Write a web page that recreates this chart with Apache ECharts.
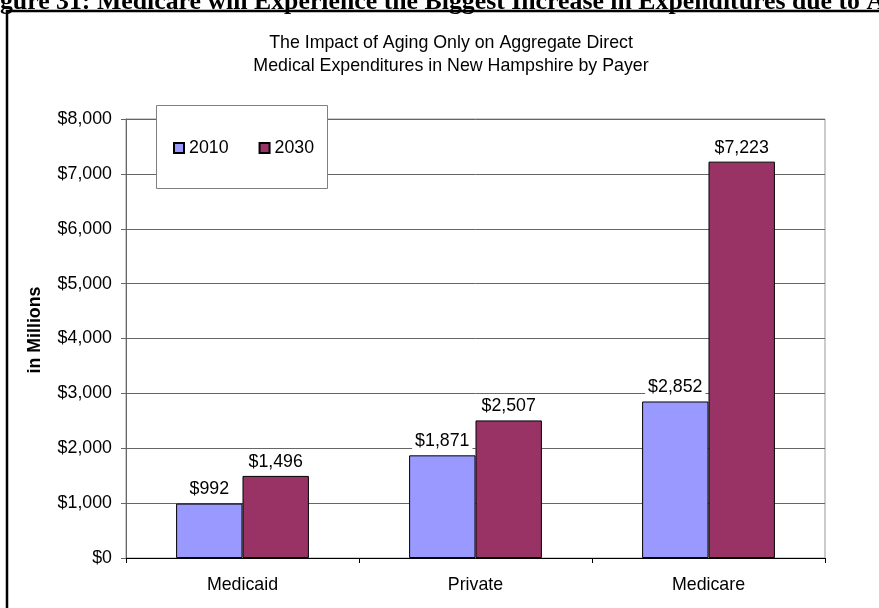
<!DOCTYPE html>
<html>
<head>
<meta charset="utf-8">
<script src="https://cdn.jsdelivr.net/npm/echarts@6/dist/echarts.min.js"></script>
<style>html,body{margin:0;padding:0;background:#fff;}#c{width:879px;height:608px;}</style>
</head>
<body>
<div id="c"></div>
<script>
var categories = ['Medicaid', 'Private', 'Medicare'];
var seriesNames = ['2010', '2030'];
var values2010 = [992, 1871, 2852];
var values2030 = [1496, 2507, 7223];
var yTicks = [0, 1000, 2000, 3000, 4000, 5000, 6000, 7000, 8000];

function money(v) {
  return '$' + String(v).replace(/\B(?=(\d{3})+(?!\d))/g, ',');
}

var chart = echarts.init(document.getElementById('c'), null, {renderer: 'canvas'});
var F = 'Liberation Sans, Arial, sans-serif';
var FS = 17.8;

function barLabel() {
  return {
    show: true, position: 'top', distance: 5,
    formatter: function (p) { return money(p.value); },
    color: '#000', fontFamily: F, fontSize: FS,
    backgroundColor: '#fff', padding: [1, 3, 0, 3]
  };
}

chart.setOption({
  animation: false,
  backgroundColor: '#fff',
  title: {
    text: 'The Impact of Aging Only on Aggregate Direct\nMedical Expenditures in New Hampshire by Payer',
    left: 451, top: 31.5, textAlign: 'center', padding: 0,
    textStyle: {fontFamily: F, fontSize: FS, fontWeight: 'normal', color: '#000', lineHeight: 23}
  },
  legend: {
    data: seriesNames,
    left: 173, top: 139,
    itemWidth: 10, itemHeight: 10, itemGap: 30,
    padding: 0, z: 5,
    textStyle: {fontFamily: F, fontSize: FS, color: '#000', padding: [0, 0, 0, 0]},
    icon: 'rect'
  },
  grid: {left: 126, right: 54, top: 119, bottom: 50, show: true, borderColor: '#999', borderWidth: 1, containLabel: false},
  xAxis: {
    type: 'category', data: categories,
    axisLine: {lineStyle: {color: '#000', width: 1}},
    axisTick: {show: true, length: 5, lineStyle: {color: '#000'}},
    axisLabel: {fontFamily: F, fontSize: FS, color: '#000', margin: 18},
    splitLine: {show: false}
  },
  yAxis: {
    type: 'value', min: yTicks[0], max: yTicks[yTicks.length - 1], interval: yTicks[1] - yTicks[0],
    axisLine: {show: true, lineStyle: {color: '#666', width: 1}},
    axisTick: {show: true, length: 5, inside: false, lineStyle: {color: '#666'}},
    axisLabel: {fontFamily: F, fontSize: FS, color: '#000', margin: 14, formatter: money},
    splitLine: {show: true, lineStyle: {color: '#666', width: 1}}
  },
  series: [
    {name: seriesNames[0], type: 'bar', data: values2010, barGap: '0%', barCategoryGap: '43%',
     itemStyle: {color: '#9999FF', borderColor: '#000', borderWidth: 1}, label: barLabel()},
    {name: seriesNames[1], type: 'bar', data: values2030, barGap: '0%', barCategoryGap: '43%',
     itemStyle: {color: '#993366', borderColor: '#000', borderWidth: 1}, label: barLabel()}
  ],
  graphic: [
    {type: 'rect', z: 3, shape: {x: 156.5, y: 105.5, width: 171, height: 83},
     style: {fill: '#fff', stroke: '#808080', lineWidth: 1}},
    {type: 'rect', z: 10, shape: {x: 7, y: 11, width: 1000, height: 1000},
     style: {fill: null, stroke: '#000', lineWidth: 2.5}},
    {type: 'text', z: 9, x: -23, y: 2.5,
     style: {text: 'Figure 31: Medicare will Experience the Biggest Increase in Expenditures due to Aging',
       font: 'bold 25.8px "Liberation Serif", "Times New Roman", serif', fill: '#000',
       align: 'left', verticalAlign: 'middle'}},
    {type: 'text', z: 10, x: 35, y: 330, rotation: Math.PI / 2,
     style: {text: 'in Millions', font: 'bold ' + FS + 'px "Liberation Sans", Arial, sans-serif', fill: '#000',
       align: 'center', verticalAlign: 'middle'}}
  ]
});
</script>
</body>
</html>
